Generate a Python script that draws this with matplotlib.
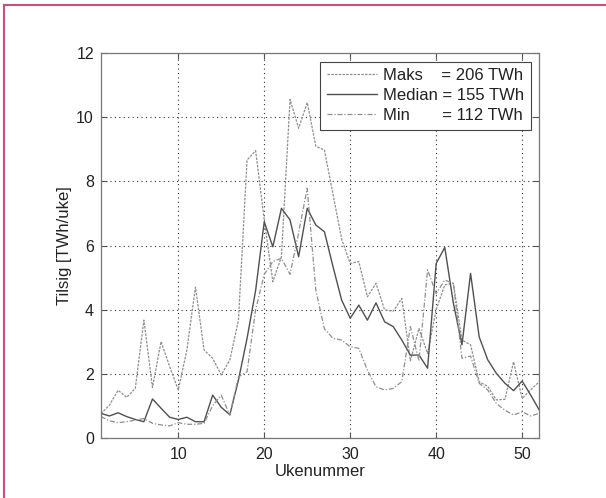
import matplotlib
matplotlib.use("Agg")
import matplotlib.pyplot as plt
from matplotlib.lines import Line2D
import numpy as np

weeks = list(range(1, 53))
maks = [0.75, 1.02, 1.48, 1.26, 1.54, 3.67, 1.57, 3.0, 2.22, 1.49, 2.74, 4.7,
        2.74, 2.48, 1.96, 2.43, 3.67, 8.67, 8.96, 6.8, 4.87, 5.65, 10.56, 9.66,
        10.46, 9.1, 8.98, 7.6, 6.2, 5.44, 5.5, 4.4, 4.82, 3.99, 3.95, 4.35,
        2.4, 3.41, 2.63, 4.0, 4.77, 4.82, 3.05, 2.9, 1.75, 1.6, 1.18, 1.2,
        2.37, 1.23, 1.5, 1.75]
median = [0.76, 0.68, 0.78, 0.66, 0.57, 0.5, 1.21, 0.92, 0.64, 0.57, 0.64, 0.5,
          0.5, 1.33, 0.95, 0.72, 1.8, 3.1, 4.6, 6.74, 5.96, 7.16, 6.8, 5.65,
          7.16, 6.64, 6.43, 5.34, 4.3, 3.73, 4.14, 3.67, 4.21, 3.62, 3.47, 3.05,
          2.58, 2.58, 2.17, 5.44, 5.94, 4.2, 2.9, 5.13, 3.15, 2.43, 2.01, 1.7,
          1.47, 1.77, 1.33, 0.86]
minimum = [0.66, 0.53, 0.47, 0.5, 0.55, 0.6, 0.45, 0.4, 0.37, 0.47, 0.42, 0.42,
           0.45, 1.0, 1.33, 0.7, 1.9, 2.06, 4.0, 5.1, 5.5, 5.6, 5.1, 6.4,
           7.79, 4.6, 3.4, 3.1, 3.05, 2.84, 2.79, 2.11, 1.59, 1.49, 1.54, 1.75,
           3.47, 2.4, 5.24, 4.5, 4.92, 4.82, 2.48, 2.55, 1.7, 1.49, 1.07, 0.86,
           0.71, 0.81, 0.68, 0.76]

labels = ["Maks    = 206 TWh", "Median = 155 TWh", "Min       = 112 TWh"]
xticks = [10, 20, 30, 40, 50]
yticks = [0, 2, 4, 6, 8, 10, 12]

plt.rcParams['font.family'] = ['Liberation Sans', 'DejaVu Sans']

fig = plt.figure(figsize=(6.06, 4.98), dpi=100)
ax = fig.add_axes([0.1665, 0.121, 0.7235, 0.772])

ax.plot(weeks, maks, color='#8f8f8f', lw=0.9, ls=(0, (2, 1)), label=labels[0])
ax.plot(weeks, median, color='#505050', lw=1.0, ls='-', label=labels[1])
ax.plot(weeks, minimum, color='#8f8f8f', lw=0.9, ls=(0, (4, 1.5, 1, 1.5)), label=labels[2])

ax.set_xlim(1, 52)
ax.set_ylim(0, 12)
ax.set_xticks(xticks)
ax.set_yticks(yticks)
ax.tick_params(direction='in', top=True, right=True, labelsize=11.5,
               color='#555555', length=4, labelcolor='#222222')
ax.tick_params(axis='x', pad=7)
ax.tick_params(axis='y', pad=5)
ax.grid(True, ls=(0, (1, 3)), color='#333333', lw=0.8)
for s in ax.spines.values():
    s.set_color('#777777')
    s.set_linewidth(0.9)

ax.set_xlabel('Ukenummer', fontsize=12, labelpad=1, color='#222222')
ax.set_ylabel('Tilsig [TWh/uke]', fontsize=12, labelpad=3, color='#222222')

leg = ax.legend(loc='upper right', fontsize=12, frameon=True, fancybox=False,
                edgecolor='#444444', framealpha=1, handlelength=3.0,
                borderpad=0.4, labelspacing=0.3, handletextpad=0.4,
                borderaxespad=0.5)
leg.get_frame().set_linewidth(0.8)
for t in leg.get_texts():
    t.set_color('#222222')

# pink frame around figure
fig.add_artist(Line2D([4/606, 4/606], [0, 1 - 5/498], transform=fig.transFigure,
                      color='#c8507c', lw=1.5))
fig.add_artist(Line2D([4/606, 1], [1 - 5/498, 1 - 5/498], transform=fig.transFigure,
                      color='#c8507c', lw=1.5))

fig.savefig('out.png', dpi=100)
